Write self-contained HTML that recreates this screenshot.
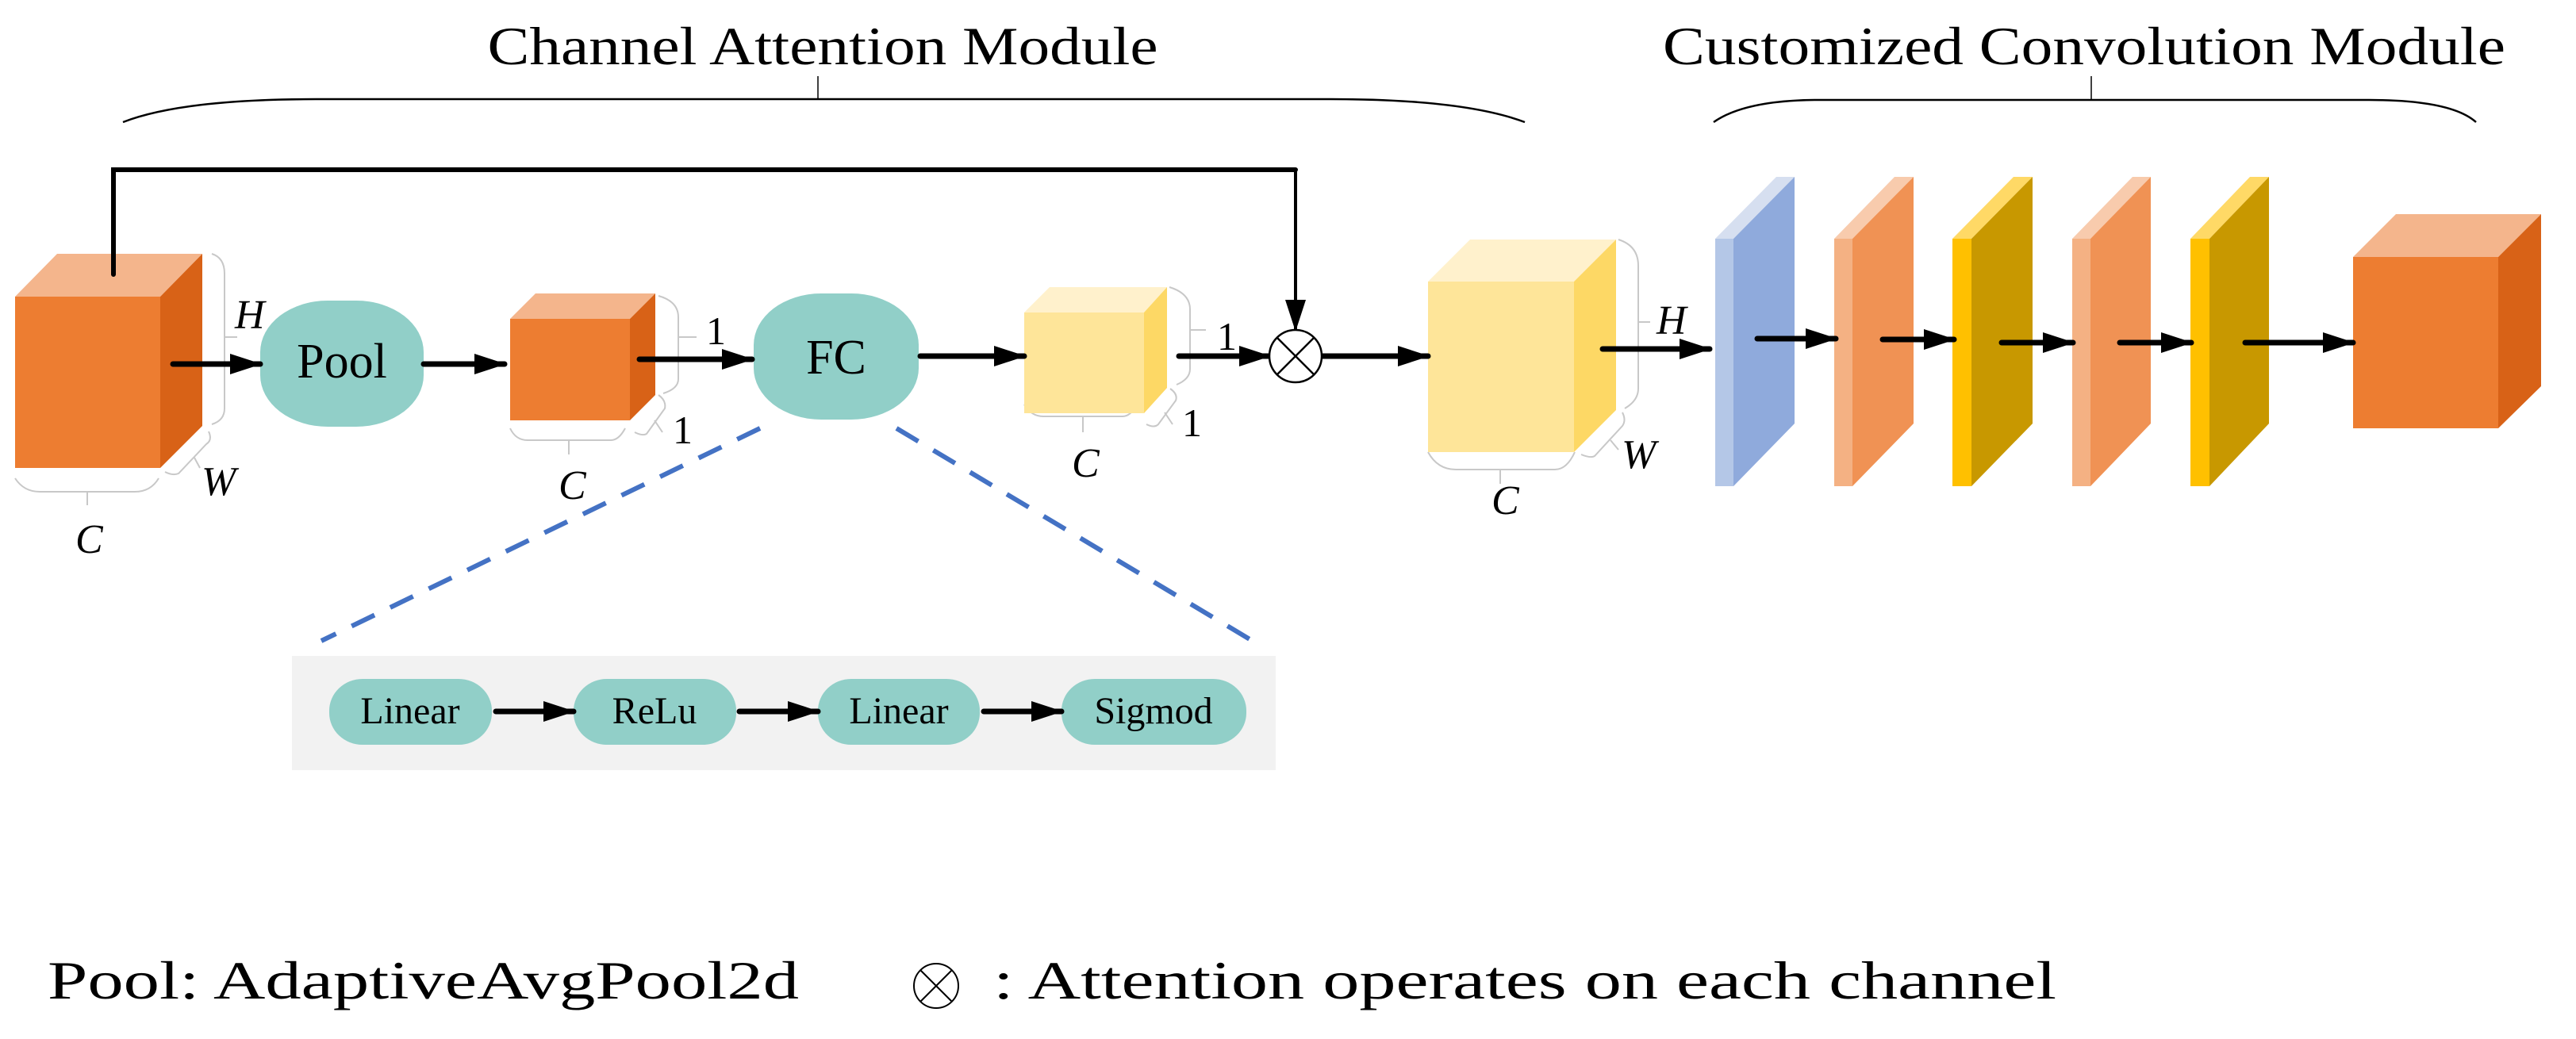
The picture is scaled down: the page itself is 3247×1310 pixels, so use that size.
<!DOCTYPE html>
<html><head><meta charset="utf-8"><style>html,body{margin:0;padding:0;background:#fff}svg{display:block}</style></head>
<body>
<svg width="3247" height="1310" viewBox="0 0 3247 1310" xmlns="http://www.w3.org/2000/svg" font-family="'Liberation Serif', serif">
<defs>
<marker id="ah" markerWidth="40" markerHeight="26" refX="38" refY="13" orient="auto" markerUnits="userSpaceOnUse">
<path d="M0,0 L40,13 L0,26 Z" fill="#000"/>
</marker>
</defs>
<!-- titles -->
<text x="1037" y="81" font-size="68" text-anchor="middle" textLength="845" lengthAdjust="spacingAndGlyphs">Channel Attention Module</text>
<text x="2627" y="81" font-size="68" text-anchor="middle" textLength="1062" lengthAdjust="spacingAndGlyphs">Customized Convolution Module</text>
<g fill="none" stroke="#000" stroke-width="2.5">
<path d="M155,154 Q230,125 398,125 L1677,125 Q1845,125 1922,154"/>
<line x1="1031" y1="96" x2="1031" y2="125" stroke-width="1.5"/>
<path d="M2160,154 Q2200,126 2293,126 L2986,126 Q3090,126 3121,154"/>
<line x1="2636" y1="96" x2="2636" y2="126" stroke-width="1.5"/>
</g>
<!-- gray annotation brackets -->
<g fill="none" stroke="#c8c8c8" stroke-width="2">
<path d="M267,320 Q283,325 283,345 L283,515 Q283,530 267,535"/><line x1="283" y1="425" x2="299" y2="425"/>
<path d="M19,603 Q30,620 50,620 L170,620 Q190,620 200,603"/><line x1="110" y1="620" x2="110" y2="637"/>
<path d="M263,544 Q268,555 260,560 L225,597 Q218,600 208,595"/><line x1="245" y1="577" x2="252" y2="590"/>

<path d="M830,373 Q855,380 855,400 L855,478 Q855,490 836,496"/><line x1="855" y1="425" x2="878" y2="425"/>
<path d="M643,540 Q650,555 665,555 L770,555 Q780,555 788,540"/><line x1="717" y1="555" x2="717" y2="573"/>
<path d="M830,498 Q840,505 838,515 L815,547 Q810,550 800,545"/><line x1="825" y1="530" x2="835" y2="545"/>

<path d="M1474,362 Q1500,370 1500,390 L1500,465 Q1500,478 1483,485"/><line x1="1500" y1="416" x2="1520" y2="416"/>
<path d="M1291,510 Q1300,525 1315,525 L1415,525 Q1425,525 1433,510"/><line x1="1365" y1="525" x2="1365" y2="545"/>
<path d="M1475,490 Q1485,497 1482,505 L1460,535 Q1455,540 1445,535"/><line x1="1468" y1="520" x2="1478" y2="535"/>

<path d="M2040,302 Q2065,310 2065,335 L2065,490 Q2065,505 2048,515"/><line x1="2065" y1="406" x2="2080" y2="406"/>
<path d="M1800,570 Q1812,592 1835,592 L1960,592 Q1975,592 1985,570"/><line x1="1891" y1="592" x2="1891" y2="610"/>
<path d="M2045,520 Q2050,530 2045,537 L2010,575 Q2005,578 1993,573"/><line x1="2030" y1="555" x2="2040" y2="567"/>
</g>
<!-- cubes -->
<g>
<polygon points="19,374 72,320 255,320 202,374" fill="#f4b58c"/>
<polygon points="202,374 255,320 255,537 202,590" fill="#d86217"/>
<rect x="19" y="374" width="183" height="216" fill="#ed7d31"/>

<polygon points="643,402 675,370 826,370 794,402" fill="#f4b58c"/>
<polygon points="794,402 826,370 826,498 794,530" fill="#d86217"/>
<rect x="643" y="402" width="151" height="128" fill="#ed7d31"/>

<polygon points="1291,394 1323,362 1471,362 1442,394" fill="#fff1cc"/>
<polygon points="1442,394 1471,362 1471,489 1442,521" fill="#fdd865"/>
<rect x="1291" y="394" width="151" height="127" fill="#fee599"/>

<polygon points="1800,355 1853,302 2037,302 1984,355" fill="#fff1cc"/>
<polygon points="1984,355 2037,302 2037,517 1984,570" fill="#fdd865"/>
<rect x="1800" y="355" width="184" height="215" fill="#fee599"/>

<polygon points="2966,324 3020,270 3203,270 3149,324" fill="#f4b58c"/>
<polygon points="3149,324 3203,270 3203,487 3149,540" fill="#d86217"/>
<rect x="2966" y="324" width="183" height="216" fill="#ed7d31"/>
</g>
<!-- plates -->
<g>
<polygon points="2162,301 2239,223 2262,223 2185,301" fill="#d6dff0"/><polygon points="2185,301 2262,223 2262,534 2185,613" fill="#8faadc"/><rect x="2162" y="301" width="23" height="312" fill="#b4c7e7"/>
<polygon points="2312,301 2388,223 2412,223 2335,301" fill="#f8cbad"/><polygon points="2335,301 2412,223 2412,534 2335,613" fill="#f09254"/><rect x="2312" y="301" width="23" height="312" fill="#f4b183"/>
<polygon points="2461,301 2538,223 2562,223 2485,301" fill="#ffd966"/><polygon points="2485,301 2562,223 2562,534 2485,613" fill="#c89800"/><rect x="2461" y="301" width="24" height="312" fill="#ffc000"/>
<polygon points="2612,301 2688,223 2711,223 2635,301" fill="#f8cbad"/><polygon points="2635,301 2711,223 2711,534 2635,613" fill="#f09254"/><rect x="2612" y="301" width="23" height="312" fill="#f4b183"/>
<polygon points="2761,301 2836,223 2860,223 2785,301" fill="#ffd966"/><polygon points="2785,301 2860,223 2860,534 2785,613" fill="#c89800"/><rect x="2761" y="301" width="24" height="312" fill="#ffc000"/>
</g>
<!-- rounded nodes -->
<g fill="#91cfc8">
<rect x="328" y="379" width="206" height="159" rx="85" ry="65"/>
<rect x="950" y="370" width="208" height="159" rx="85" ry="65"/>
</g>
<text x="431" y="476" font-size="62" text-anchor="middle">Pool</text>
<text x="1054" y="471" font-size="62" text-anchor="middle">FC</text>
<!-- dashed -->
<g stroke="#4472c4" stroke-width="6" stroke-dasharray="32,22" fill="none">
<line x1="958" y1="540" x2="405" y2="808"/>
<line x1="1130" y1="540" x2="1582" y2="810"/>
</g>
<!-- panel -->
<rect x="368" y="827" width="1240" height="144" fill="#f2f2f2"/>
<g fill="#91cfc8">
<rect x="415" y="856" width="205" height="83" rx="42" ry="40"/>
<rect x="723" y="856" width="205" height="83" rx="42" ry="40"/>
<rect x="1031" y="856" width="204" height="83" rx="42" ry="40"/>
<rect x="1338" y="856" width="233" height="83" rx="42" ry="40"/>
</g>
<g font-size="48" text-anchor="middle">
<text x="517" y="912">Linear</text>
<text x="825" y="912">ReLu</text>
<text x="1133" y="912">Linear</text>
<text x="1454" y="912">Sigmod</text>
</g>
<!-- arrows -->
<g stroke="#000" stroke-width="7" stroke-linecap="round" marker-end="url(#ah)" fill="none">
<line x1="218" y1="459" x2="328" y2="459"/>
<line x1="534" y1="459" x2="636" y2="459"/>
<line x1="806" y1="453" x2="948" y2="453"/>
<line x1="1160" y1="449" x2="1291" y2="449"/>
<line x1="1486" y1="449" x2="1600" y2="449"/>
<line x1="1667" y1="449" x2="1800" y2="449"/>
<line x1="2020" y1="440" x2="2155" y2="440"/>
<line x1="2215" y1="427" x2="2314" y2="427"/>
<line x1="2373" y1="428" x2="2463" y2="428"/>
<line x1="2523" y1="432" x2="2613" y2="432"/>
<line x1="2672" y1="432" x2="2762" y2="432"/>
<line x1="2830" y1="432" x2="2966" y2="432"/>
<line x1="625" y1="897" x2="723" y2="897"/>
<line x1="932" y1="897" x2="1031" y2="897"/>
<line x1="1240" y1="897" x2="1338" y2="897"/>
</g>
<!-- skip connection -->
<path d="M143,346 L143,214 L1633,214" fill="none" stroke="#000" stroke-width="6" stroke-linecap="round"/>
<line x1="1633" y1="214" x2="1633" y2="416" stroke="#000" stroke-width="4" marker-end="url(#ah)"/>
<!-- otimes -->
<g fill="none" stroke="#000" stroke-width="2.5">
<circle cx="1633" cy="449" r="33" fill="#fff"/>
<line x1="1610" y1="426" x2="1656" y2="472"/><line x1="1656" y1="426" x2="1610" y2="472"/>
</g>
<!-- labels -->
<g font-size="52" font-style="italic">
<text x="296" y="414">H</text>
<text x="254" y="624">W</text>
<text x="95" y="697">C</text>
<text x="704" y="629">C</text>
<text x="1351" y="601">C</text>
<text x="2088" y="421">H</text>
<text x="2044" y="590">W</text>
<text x="1880" y="648">C</text>
</g>
<g font-size="50">
<text x="890" y="434">1</text>
<text x="848" y="559">1</text>
<text x="1534" y="441">1</text>
<text x="1490" y="550">1</text>
</g>
<!-- legend -->
<text x="60" y="1259" font-size="68" textLength="947" lengthAdjust="spacingAndGlyphs">Pool:  AdaptiveAvgPool2d</text>
<g fill="none" stroke="#000" stroke-width="2">
<circle cx="1180" cy="1243" r="28"/>
<line x1="1160" y1="1223" x2="1200" y2="1263"/><line x1="1200" y1="1223" x2="1160" y2="1263"/>
</g>
<text x="1252" y="1259" font-size="68" textLength="1340" lengthAdjust="spacingAndGlyphs">:  Attention operates on each channel</text>
</svg>
</body></html>
